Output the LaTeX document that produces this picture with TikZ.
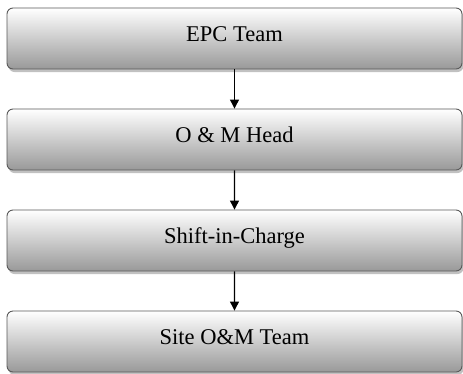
\documentclass[tikz,border=0pt]{standalone}
\usepackage{fontspec}
\setmainfont{Liberation Serif}
\usepackage{tikz}
\usetikzlibrary{arrows.meta}
\usetikzlibrary{trees}
\usetikzlibrary{shadows}

\tikzset{
  rolebox/.style={draw=black!65, line width=0.9pt, rounded corners=6pt,
    minimum width=455pt, minimum height=61pt, inner sep=0pt,
    text height=16pt, text depth=10pt,
    top color=white, bottom color=black!40,
    drop shadow={shadow xshift=1.5pt, shadow yshift=-3pt, fill=black!30, opacity=0.8},
    font=\fontsize{22.5}{26}\selectfont}
}

\begin{document}
\begin{tikzpicture}[x=1pt, y=1pt,
    level distance=101pt,
    edge from parent/.style={draw, line width=1.2pt, -{Triangle[length=9pt,width=9pt]}}]
    \useasboundingbox (0,0) rectangle (463,-373);
    \node[rolebox] (epc) at (234.5,-38.5) {EPC Team}
    child {node[rolebox] (head) {O \& M Head}
      child {node[rolebox] (shift) {Shift-in-Charge}
        child {node[rolebox] (site) {Site O\&M Team}}
      }
    };
  \end{tikzpicture}
\end{document}
